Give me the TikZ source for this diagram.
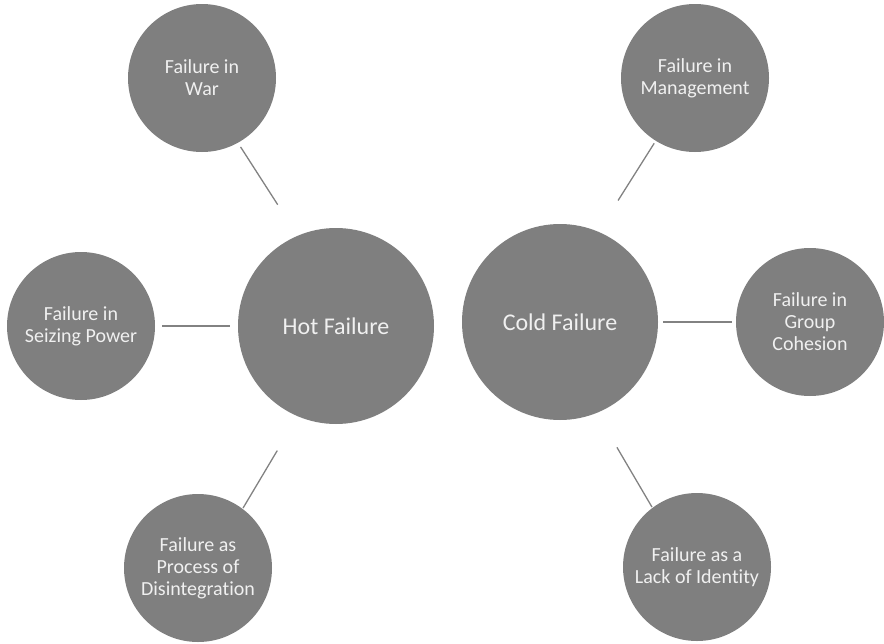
\documentclass[tikz,border=0pt]{standalone}
\usepackage{fontspec}
\setmainfont[Ligatures=NoCommon]{Carlito}
\definecolor{circfill}{RGB}{127,127,127}
\definecolor{textcol}{RGB}{240,240,240}
\definecolor{linecol}{RGB}{130,130,130}
\begin{document}
\begin{tikzpicture}[x=1pt,y=-1pt,
  hub/.style={circle, fill=circfill, minimum size=196pt, inner sep=0pt, outer sep=0pt,
    text=textcol, font=\fontsize{24}{28}\selectfont, align=center},
  sat/.style={circle, fill=circfill, minimum size=148pt, inner sep=0pt, outer sep=0pt,
    text=textcol, font=\fontsize{20}{22}\selectfont, align=center},
  link/.style={draw=linecol, line width=1.3pt}]
\useasboundingbox (0,0) rectangle (884,643);
\node[hub] (hot) at (336,326) {Hot Failure};
\node[hub] (cold) at (560,322) {Cold Failure};
\node[sat] (war) at (202,78) {Failure in\\War};
\node[sat] (mgmt) at (695,78) {Failure in\\Management};
\node[sat] (seize) at (81,326) {Failure in\\Seizing Power};
\node[sat] (group) at (810,322) {Failure in\\Group\\Cohesion};
\node[sat] (disint) at (198,568) {Failure as\\Process of\\Disintegration};
\node[sat] (ident) at (697,567) {Failure as a\\Lack of Identity};
\draw[link, shorten <=5pt, shorten >=37pt] (war.-61) -- (hot.113);
\draw[link, shorten <=3pt, shorten >=37pt] (mgmt.-122) -- (cold.67);
\draw[link, shorten <=7pt, shorten >=8pt] (seize.east) -- (hot.west);
\draw[link, shorten <=5pt, shorten >=4pt] (cold.east) -- (group.west);
\draw[link, shorten <=1pt, shorten >=40pt] (disint.53) -- (hot.-113);
\draw[link, shorten <=1pt, shorten >=40pt] (ident.127) -- (cold.-68);
\end{tikzpicture}
\end{document}
